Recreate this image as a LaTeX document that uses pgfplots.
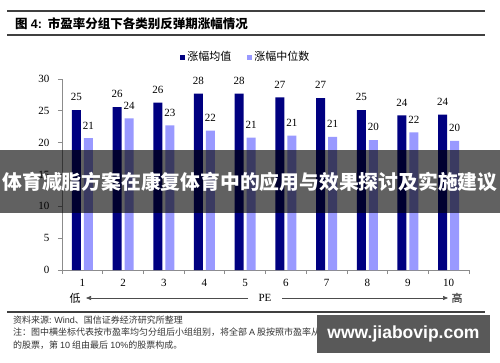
\documentclass[border=0pt]{standalone}
\usepackage{pgfplots}
\pgfplotsset{compat=1.18}
\usepackage{fontspec}
\setmainfont{Liberation Serif}
\newfontfamily\cjk{Noto Sans CJK SC}
\newfontfamily\arial{Liberation Sans}
\usetikzlibrary{arrows.meta}
\definecolor{navybar}{HTML}{000080}
\definecolor{lightbar}{HTML}{9999FF}
\begin{document}
\begin{tikzpicture}[x=1pt,y=1pt]
\path[use as bounding box, fill=white] (0,0) rectangle (500,362);
% header rules and title
\draw[line width=1.2pt, black!75] (7,351) -- (485,351);
\draw[line width=1.2pt, black!75] (7,327) -- (485,327);
\node[anchor=west, inner sep=0pt] at (15,338.5) {\fontsize{12.5}{14}\selectfont{\cjk\bfseries 图} {\arial\bfseries 4:}\hspace{6pt}{\cjk\bfseries 市盈率分组下各类别反弹期涨幅情况}};
\begin{axis}[
  at={(62pt,92pt)}, anchor=south west,
  scale only axis, width=407pt, height=191pt,
  xmin=0.5, xmax=10.5, ymin=0, ymax=30,
  ybar=3pt, bar width=9pt,
  axis lines*=left,
  axis line style={black!45, line width=0.8pt},
  xtick={1,...,10},
  minor xtick={0.5,1.5,...,10.5},
  major x tick style={draw=none},
  minor x tick style={black!45, line width=0.8pt},
  ytick={0,5,...,30},
  y tick style={black!45, line width=0.8pt},
  tick align=outside, major tick length=4pt, minor tick length=4pt,
  tick label style={font=\fontsize{11}{13}\selectfont},
  yticklabel style={xshift=-5pt},
  xticklabel style={yshift=-2pt},
  /pgf/number format/assume math mode=true,
  nodes near coords={\pgfmathprintnumber[fixed,precision=0,assume math mode=true]{\pgfplotspointmeta}},
  nodes near coords style={font=\fontsize{11}{13}\selectfont, inner sep=0pt, yshift=9pt},
  legend style={at={(0.452,1.115)}, anchor=center, draw=none, fill=none,
    legend columns=2, font=\cjk\fontsize{11}{13}\selectfont,
    /tikz/every even column/.append style={column sep=14pt}},
  legend image code/.code={\fill[#1,draw=none] (0pt,-2.5pt) rectangle (5pt,2.5pt);},
]
\addplot[draw=none, fill=navybar] coordinates {
 (1,25.1) (2,25.6) (3,26.3) (4,27.7) (5,27.7) (6,27.1) (7,27.0) (8,25.1) (9,24.3) (10,24.4)};
\addplot[draw=none, fill=lightbar] coordinates {
 (1,20.7) (2,23.8) (3,22.7) (4,21.9) (5,20.8) (6,21.1) (7,20.9) (8,20.4) (9,21.6) (10,20.3)};
\legend{涨幅均值, 涨幅中位数}
\end{axis}
% PE direction row
\node[font=\fontsize{11}{13}\selectfont] at (75,64) {\cjk 低};
\draw[black!70, line width=0.6pt, -{Triangle[length=5pt,width=4pt]}] (248,64) -- (86,64);
\node[font=\fontsize{11}{13}\selectfont] at (265,64) {PE};
\draw[black!70, line width=0.6pt, -{Triangle[length=5pt,width=4pt]}] (282,64) -- (448,64);
\node[font=\fontsize{11}{13}\selectfont] at (457,64) {\cjk 高};
% bottom rule and notes
\draw[line width=1.2pt, black!75] (7,50) -- (485,50);
\node[anchor=west, inner sep=0pt, font=\fontsize{9}{11}\selectfont, text=black!80] at (13,42) {\cjk 资料来源: {\arial Wind}、国信证券经济研究所整理};
\node[anchor=west, inner sep=0pt, font=\fontsize{9}{11}\selectfont, text=black!80] at (13,29.5) {\cjk 注：图中横坐标代表按市盈率均匀分组后小组组别，将全部 {\arial A} 股按照市盈率从小到大排序，第 {\arial 1} 组由含前 {\arial 10\%}};
\node[anchor=west, inner sep=0pt, font=\fontsize{9}{11}\selectfont, text=black!80] at (13,17) {\cjk 的股票，第 {\arial 10} 组由最后 {\arial 10\%}的股票构成。};
% overlays
\fill[black, opacity=0.62] (0,149) rectangle (500,212);
\node[text=white, inner sep=0pt] at (250,180.5) {\cjk\bfseries\fontsize{19.8}{21}\selectfont 体育减脂方案在康复体育中的应用与效果探讨及实施建议};
\fill[black!65] (317,9) rectangle (490,47);
\node[text=white, inner sep=0pt] at (403.5,28) {\arial\bfseries\fontsize{17.5}{19}\selectfont www.jiabovip.com};
\end{tikzpicture}
\end{document}
